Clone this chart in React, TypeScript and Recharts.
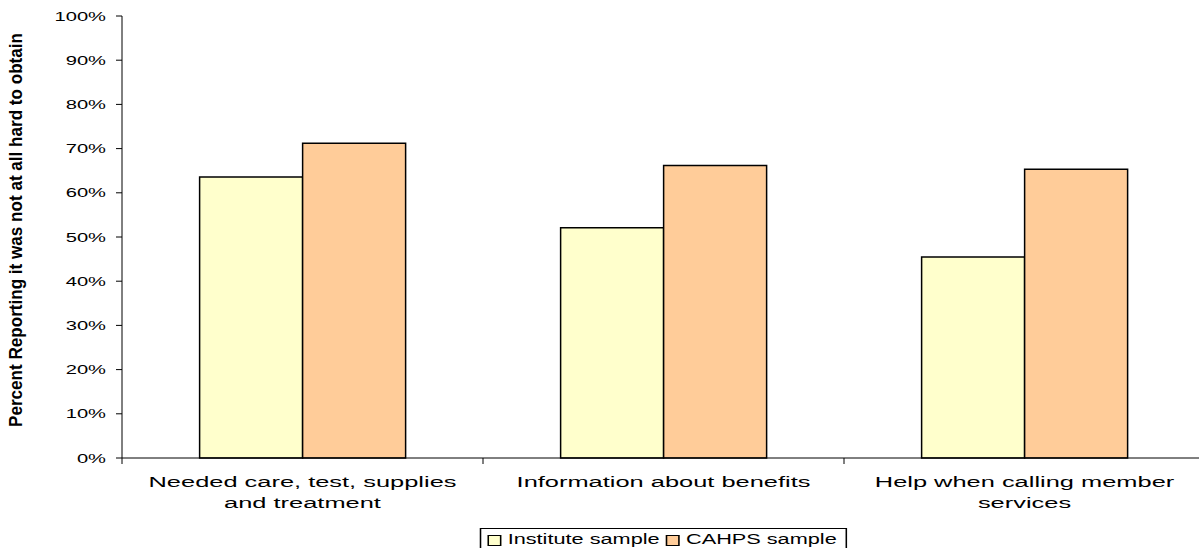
import React from "react";
import { BarChart, Bar, XAxis, YAxis, Legend, Label } from "recharts";

const categories = [
  "Needed care, test, supplies\nand treatment",
  "Information about benefits",
  "Help when calling member\nservices",
];
const instituteValues = [63.6, 52.1, 45.5];
const cahpsValues = [71.2, 66.2, 65.3];
const yTicks = [0, 10, 20, 30, 40, 50, 60, 70, 80, 90, 100];
const boundaryTicks = [0, 1, 2, 3];

const SERIES = [
  { key: "institute", name: "Institute sample", color: "#FFFFCC" },
  { key: "cahps", name: "CAHPS sample", color: "#FFCC99" },
];

const data = categories.map((c, i) => ({
  category: c,
  idx: i + 0.5,
  institute: instituteValues[i],
  cahps: cahpsValues[i],
}));

const FONT = "'Liberation Sans', Arial, sans-serif";

function YTick({ x, y, payload }: any) {
  return (
    <g transform={`translate(${x},${y}) scale(1.55,1)`}>
      <text textAnchor="end" dy="0.35em" fontSize={13} fontFamily={FONT} fill="#000">
        {`${payload.value}%`}
      </text>
    </g>
  );
}

function XTick({ x, y, payload }: any) {
  const lines = String(payload.value).split("\n");
  return (
    <g transform={`translate(${x},${y}) scale(1.64,1)`}>
      <text textAnchor="middle" fontSize={15.5} fontFamily={FONT} fill="#000">
        {lines.map((l, i) => (
          <tspan key={i} x={0} y={23 + i * 21}>
            {l}
          </tspan>
        ))}
      </text>
    </g>
  );
}

function YLabel({ viewBox }: any) {
  const cx = viewBox.x + 10;
  const cy = viewBox.y + viewBox.height / 2 - 7;
  return (
    <text
      transform={`translate(${cx},${cy}) rotate(-90)`}
      textAnchor="middle"
      fontSize={18}
      fontWeight="bold"
      fontFamily={FONT}
      fill="#000"
      textLength={394}
      lengthAdjust="spacingAndGlyphs"
    >
      Percent Reporting it was not at all hard to obtain
    </text>
  );
}

function LegendBox() {
  return (
    <div style={{ display: "flex", justifyContent: "center" }}>
      <div
        style={{
          display: "flex",
          alignItems: "center",
          height: 22,
          border: "1px solid #000",
          background: "#fff",
          padding: "0 6px 0 4px",
          transform: "scaleX(1.55)",
          transformOrigin: "center",
          fontFamily: FONT,
          fontSize: 14,
          color: "#000",
          boxSizing: "border-box",
        }}
      >
        {SERIES.map((s, i) => (
          <div key={s.key} style={{ display: "flex", alignItems: "center", marginLeft: i ? 4 : 0 }}>
            <span
              style={{
                display: "inline-block",
                width: 7,
                height: 9,
                background: s.color,
                border: "1px solid #000",
                marginRight: 4,
                marginTop: 2,
              }}
            />
            <span>{s.name}</span>
          </div>
        ))}
      </div>
    </div>
  );
}

export default function App() {
  return (
    <div
      style={{
        position: "absolute",
        left: 0,
        top: 0,
        width: 1199,
        height: 548,
        overflow: "hidden",
        background: "#fff",
      }}
    >
      <BarChart
        width={1210}
        height={548}
        data={data}
        margin={{ top: 16, right: 5, bottom: 0, left: 12 }}
        barCategoryGap="21.5%"
        barGap={0}
      >
        <XAxis
          xAxisId="b"
          dataKey="category"
          axisLine={false}
          tickLine={false}
          tickSize={0}
          tickMargin={0}
          interval={0}
          height={62}
          tick={<XTick />}
        />
        <XAxis
          xAxisId="a"
          type="number"
          dataKey="idx"
          domain={[0, 3]}
          allowDataOverflow
          ticks={boundaryTicks}
          interval={0}
          tickFormatter={() => ""}
          tickSize={6}
          height={6}
          stroke="#000"
        />
        <YAxis
          domain={[0, 100]}
          ticks={yTicks}
          interval={0}
          width={110}
          tickSize={6}
          tickMargin={10}
          stroke="#000"
          tick={<YTick />}
        >
          <Label content={<YLabel />} />
        </YAxis>
        <Legend
          verticalAlign="bottom"
          content={<LegendBox />}
          wrapperStyle={{ left: 122, width: 1083, bottom: -2 }}
        />
        {SERIES.map((s) => (
          <Bar
            key={s.key}
            xAxisId="b"
            dataKey={s.key}
            name={s.name}
            fill={s.color}
            stroke="#000"
            strokeWidth={1.5}
            isAnimationActive={false}
          />
        ))}
      </BarChart>
    </div>
  );
}
